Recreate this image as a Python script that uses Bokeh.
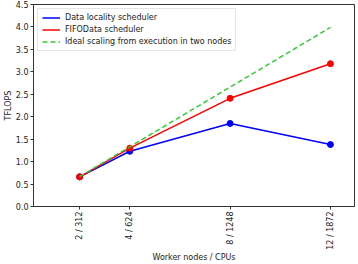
import math
from bokeh.plotting import figure
from bokeh.models import FixedTicker, Range1d, Legend, LegendItem
from bokeh.embed import file_html
from bokeh.resources import INLINE

# Worker nodes (x positions) and their CPU counts for tick labels
nodes = [2, 4, 8, 12]
tick_labels = ["2 / 312", "4 / 624", "8 / 1248", "12 / 1872"]

# Measured throughput in TFLOPS
locality_tflops = [0.66, 1.23, 1.85, 1.38]
fifo_tflops = [0.66, 1.30, 2.41, 3.18]
ideal_tflops = [0.665, 1.33, 2.66, 3.99]

FONT = "DejaVu Sans"

p = figure(width=358, height=264, output_backend="svg", toolbar_location=None,
           x_range=Range1d(0.16, 12.96), y_range=Range1d(0, 4.5),
           min_border_left=0, min_border_right=4, min_border_top=4, min_border_bottom=0)

p.xgrid.visible = False
p.ygrid.visible = False
p.outline_line_color = "#333333"
p.outline_line_width = 1
p.background_fill_color = "white"
p.border_fill_color = "white"

l1 = p.line(nodes, locality_tflops, line_color="#0000ff", line_width=1.5)
m1 = p.scatter(nodes, locality_tflops, size=6, fill_color="#0000ff", line_color="#0000ff")
l2 = p.line(nodes, fifo_tflops, line_color="#ff0000", line_width=1.5)
m2 = p.scatter(nodes, fifo_tflops, size=6, fill_color="#ff0000", line_color="#ff0000")
l3 = p.line(nodes, ideal_tflops, line_color="#33cc33", line_width=1.5, line_dash="5 3")

p.xaxis.ticker = FixedTicker(ticks=nodes)
p.xaxis.major_label_overrides = {n: t for n, t in zip(nodes, tick_labels)}
p.xaxis.major_label_orientation = math.pi / 2
p.xaxis.axis_label = "Worker nodes / CPUs"

p.yaxis.ticker = FixedTicker(ticks=[i * 0.5 for i in range(10)])
p.yaxis.major_label_overrides = {i * 0.5: f"{i * 0.5:.1f}" for i in range(10)}
p.yaxis.axis_label = "TFLOPS"

for ax in (p.xaxis[0], p.yaxis[0]):
    ax.axis_line_color = "#333333"
    ax.major_tick_line_color = "#333333"
    ax.major_tick_out = 3
    ax.major_tick_in = 0
    ax.minor_tick_line_color = None
    ax.major_label_text_font = FONT
    ax.major_label_text_font_size = "8px"
    ax.major_label_text_color = "#222222"
    ax.major_label_standoff = 2
    ax.axis_label_text_font = FONT
    ax.axis_label_text_font_size = "8px"
    ax.axis_label_text_font_style = "normal"
    ax.axis_label_text_color = "#222222"
    ax.axis_label_standoff = 0

legend = Legend(items=[
    LegendItem(label="Data locality scheduler", renderers=[l1]),
    LegendItem(label="FIFOData scheduler", renderers=[l2]),
    LegendItem(label="Ideal scaling from execution in two nodes", renderers=[l3]),
], location="top_left")
legend.label_text_font = FONT
legend.label_text_font_size = "8px"
legend.label_text_color = "#222222"
legend.label_height = 9
legend.glyph_height = 9
legend.glyph_width = 18
legend.spacing = 3
legend.padding = 4
legend.margin = 4
legend.border_line_color = "#cccccc"
legend.background_fill_alpha = 0.9
p.add_layout(legend)

open("out.html", "w").write(file_html(p, INLINE))
